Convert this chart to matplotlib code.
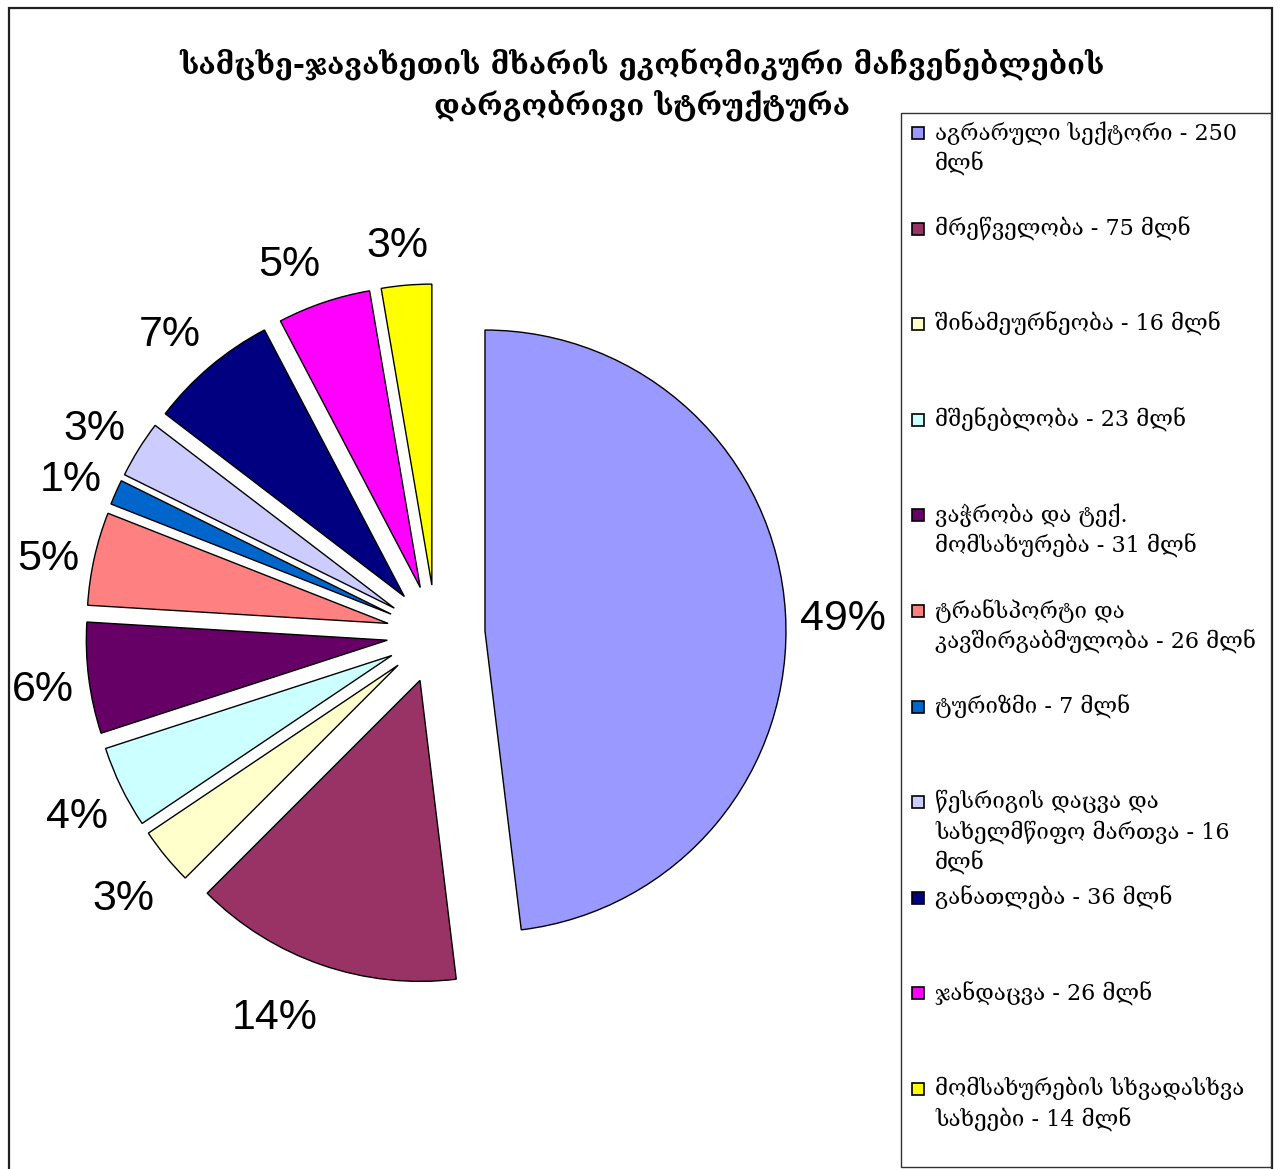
import numpy as np
import matplotlib
matplotlib.use("Agg")
import matplotlib.pyplot as plt
from matplotlib.patches import Rectangle

# ---- data ----
categories = [
    "აგრარული სექტორი - 250\nმლნ",
    "მრეწველობა - 75 მლნ",
    "შინამეურნეობა - 16 მლნ",
    "მშენებლობა - 23 მლნ",
    "ვაჭრობა და ტექ.\nმომსახურება - 31 მლნ",
    "ტრანსპორტი და\nკავშირგაბმულობა - 26 მლნ",
    "ტურიზმი - 7 მლნ",
    "წესრიგის დაცვა და\nსახელმწიფო მართვა - 16\nმლნ",
    "განათლება - 36 მლნ",
    "ჯანდაცვა - 26 მლნ",
    "მომსახურების სხვადასხვა\nსახეები - 14 მლნ",
]
values = [250, 75, 16, 23, 31, 26, 7, 16, 36, 26, 14]
pct_labels = ["49%", "14%", "3%", "4%", "6%", "5%", "1%", "3%", "7%", "5%", "3%"]
colors = ["#9999FF", "#993366", "#FFFFCC", "#CCFFFF", "#660066", "#FF8080",
          "#0066CC", "#CCCCFF", "#000080", "#FF00FF", "#FFFF00"]
title_lines = ["სამცხე-ჯავახეთის მხარის ეკონომიკური მაჩვენებლების",
               "დარგობრივი სტრუქტურა"]

W, H = 1281, 1169
fig = plt.figure(figsize=(W / 100, H / 100), dpi=100)
fig.patch.set_facecolor("white")

# pie axes: center at (436, 634) px, radius 301 px
cx_px, cy_px, r_px = 436, 634, 301
half = 400
ax = fig.add_axes([(cx_px - half) / W, (H - cy_px - half) / H, 2 * half / W, 2 * half / H])
wedges, _ = ax.pie(values, colors=colors, startangle=90, counterclock=False,
                   explode=[0.163] * len(values), radius=1,
                   wedgeprops=dict(edgecolor="black", linewidth=1.0))
lim = half / r_px
ax.set_xlim(-lim, lim)
ax.set_ylim(-lim, lim)
ax.set_aspect("equal")
ax.axis("off")

# percentage labels: anchored outside the wedge, box placed away from pie
fig.canvas.draw()
renderer = fig.canvas.get_renderer()
ppu = ax.transData.transform((1, 0))[0] - ax.transData.transform((0, 0))[0]
fs = 31
Dx, Dy, oy0 = 1.213, 1.266, -0.026
for w, lab in zip(wedges, pct_labels):
    th = np.deg2rad((w.theta1 + w.theta2) / 2)
    c, s = np.cos(th), np.sin(th)
    t = ax.text(0, 0, lab, ha="center", va="center", fontsize=fs,
                family=["Liberation Sans", "DejaVu Sans"], color="black")
    bb = t.get_window_extent(renderer)
    hw = bb.width / 2 / ppu
    hh = 0.37 * fs * 100 / 72 / ppu
    fx = np.clip(3 * c, -1, 1)
    fy = np.sign(s) * np.clip((abs(s) - 0.2) * 2.2, 0, 1)
    t.set_position((Dx * c + hw * fx, oy0 + Dy * s + hh * fy))

geo_fam = ["DejaVu Serif", "DejaVu Sans"]

# title
fig.text(642 / W, 1 - 65 / H, title_lines[0], ha="center", va="center",
         fontsize=21, fontweight="bold", family=geo_fam)
fig.text(642 / W, 1 - 105 / H, title_lines[1], ha="center", va="center",
         fontsize=21, fontweight="bold", family=geo_fam)

# outer frame
fig.patches.append(Rectangle((9 / W, -10 / H), (1272 - 9) / W, (H - 8 + 10) / H,
                             transform=fig.transFigure, fill=False,
                             edgecolor="#202020", linewidth=1.6))
# legend box
fig.patches.append(Rectangle((901 / W, 1 - 1167 / H), (1271 - 901) / W, (1167 - 113) / H,
                             transform=fig.transFigure, facecolor="white",
                             edgecolor="#333333", linewidth=1.0))
# legend entries
first_y, step = 133, 95.6
sq = 12
for i, (lab, col) in enumerate(zip(categories, colors)):
    y = first_y + i * step
    fig.patches.append(Rectangle(((918 - sq / 2) / W, 1 - (y + sq / 2) / H), sq / W, sq / H,
                                 transform=fig.transFigure, facecolor=col,
                                 edgecolor="black", linewidth=1.2))
    fig.text(935 / W, 1 - (y - 12) / H, lab, ha="left", va="top",
             fontsize=16, family=geo_fam, linespacing=1.38)

fig.savefig("out.png", dpi=100, facecolor="white")
